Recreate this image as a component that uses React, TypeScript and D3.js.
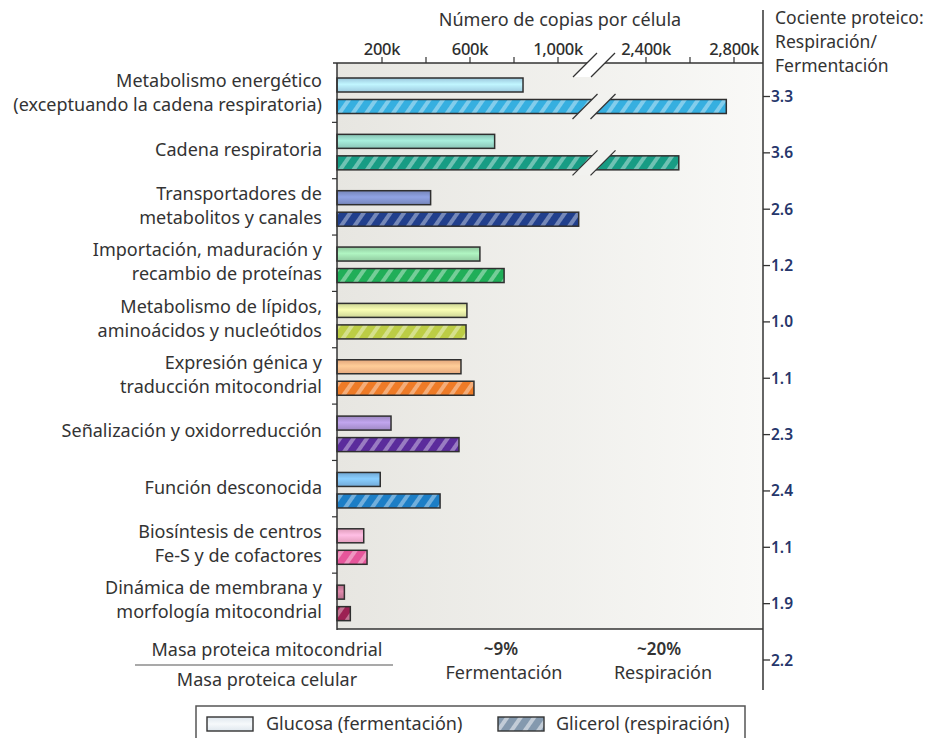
import React from "react";
import * as d3 from "d3";

const categories: string[][] = [
  ["Metabolismo energético", "(exceptuando la cadena respiratoria)"],
  ["Cadena respiratoria"],
  ["Transportadores de", "metabolitos y canales"],
  ["Importación, maduración y", "recambio de proteínas"],
  ["Metabolismo de lípidos,", "aminoácidos y nucleótidos"],
  ["Expresión génica y", "traducción mitocondrial"],
  ["Señalización y oxidorreducción"],
  ["Función desconocida"],
  ["Biosíntesis de centros", "Fe-S y de cofactores"],
  ["Dinámica de membrana y", "morfología mitocondrial"],
];
const glucosa = [841, 712, 421, 645, 586, 559, 241, 192, 117, 29];
const glicerol = [2765, 2549, 1094, 755, 582, 618, 550, 464, 132, 56];
const ratios = ["3.3", "3.6", "2.6", "1.2", "1.0", "1.1", "2.3", "2.4", "1.1", "1.9", "2.2"];
const glucoseColors = ["#aad9f0", "#94d3c3", "#7f90c9", "#9bd8ab", "#dde6a0", "#f8b586", "#aa92d2", "#7ab7e8", "#f3a9ca", "#c67998"];
const glycerolColors = ["#36afe0", "#179c84", "#213f8c", "#20ae58", "#bccd45", "#ee7b27", "#5b2c9c", "#1c7ec6", "#e6569b", "#9c2053"];
const tickValues = [200, 400, 600, 800, 1000, 2400, 2600, 2800];
const labeledTicks = [200, 600, 1000, 2400, 2800];
const breakOffset = 1000;

const FONT = "'Noto Sans', 'Open Sans', sans-serif";

export default function App() {
  const left = 337;
  const right = 763;
  const top = 63;
  const bottom = 629;
  const x = d3.scaleLinear().domain([0, 2000]).range([338, 338 + 440]);
  const pos = (v: number) => (v > 1800 ? x(v - breakOffset) : x(v));
  const band = d3
    .scaleBand<number>()
    .domain(d3.range(categories.length))
    .range([66, 66 + 56.35 * categories.length])
    .paddingInner(0)
    .paddingOuter(0);
  const bw = band.bandwidth();
  const barH = 14;
  const breakX = 594;
  const fmt = (v: number) => d3.format(",")(v) + "k";

  const slash = (cx: number, cy: number, h: number) => {
    const dx = h / 2;
    return `M${cx - dx},${cy + h / 2}L${cx + dx},${cy - h / 2}`;
  };
  const gapPoly = (cy: number, h: number) => {
    const a = breakX - 9;
    const b = breakX + 9;
    const dx = h / 2;
    return `M${a - dx},${cy + h / 2}L${a + dx},${cy - h / 2}L${b + dx},${cy - h / 2}L${b - dx},${cy + h / 2}Z`;
  };

  return (
    <svg
      width={931}
      height={738}
      style={{ position: "absolute", left: 0, top: 0, display: "block", background: "#fff" }}
      fontFamily={FONT}
    >
      <defs>
        <linearGradient id="bg" x1="0" x2="1" y1="0" y2="0">
          <stop offset="0%" stopColor="#e7e6e1" />
          <stop offset="100%" stopColor="#f9f9f7" />
        </linearGradient>
        {glucoseColors.map((c, i) => (
          <linearGradient key={i} id={`gl${i}`} x1="0" x2="0" y1="0" y2="1">
            <stop offset="0%" stopColor={d3.color(c)!.darker(0.25).toString()} />
            <stop offset="45%" stopColor={d3.color(c)!.brighter(0.35).toString()} />
            <stop offset="100%" stopColor={d3.color(c)!.darker(0.2).toString()} />
          </linearGradient>
        ))}
        {glycerolColors.map((c, i) => (
          <pattern
            key={i}
            id={`gy${i}`}
            patternUnits="userSpaceOnUse"
            width={11}
            height={11}
            patternTransform="rotate(35)"
          >
            <rect width={11} height={11} fill={c} />
            <rect x={0} width={4} height={11} fill="#ffffff" opacity={0.38} />
          </pattern>
        ))}
        <linearGradient id="legG" x1="0" x2="0" y1="0" y2="1">
          <stop offset="0%" stopColor="#dfe7ee" />
          <stop offset="50%" stopColor="#f6f9fb" />
          <stop offset="100%" stopColor="#dfe7ee" />
        </linearGradient>
        <pattern id="legP" patternUnits="userSpaceOnUse" width={11} height={11} patternTransform="rotate(35)">
          <rect width={11} height={11} fill="#8499ae" />
          <rect x={0} width={4} height={11} fill="#ffffff" opacity={0.5} />
        </pattern>
      </defs>

      {/* plot background */}
      <rect x={left} y={top} width={right - left} height={bottom - top} fill="url(#bg)" />

      {/* title */}
      <text x={560} y={26} textAnchor="middle" fontSize={18} fill="#333">
        Número de copias por célula
      </text>

      {/* top axis */}
      <line x1={333} x2={right} y1={top} y2={top} stroke="#333" strokeWidth={1.3} />
      {tickValues.map((t) => (
        <line key={t} x1={pos(t)} x2={pos(t)} y1={top} y2={top - 6} stroke="#333" strokeWidth={1.2} />
      ))}
      {labeledTicks.map((t) => (
        <text key={t} x={pos(t)} y={55} textAnchor="middle" fontSize={16.5} fontWeight={500} fill="#2e2e2e" letterSpacing={-0.3}>
          {fmt(t)}
        </text>
      ))}
      <path d={gapPoly(65, 24)} fill="#ffffff" />
      <path d={slash(breakX - 9, 65, 24)} stroke="#333" strokeWidth={1.3} />
      <path d={slash(breakX + 9, 65, 24)} stroke="#333" strokeWidth={1.3} />

      {/* bars */}
      {categories.map((_, i) => {
        const y0 = band(i)!;
        const yg = y0 + 12;
        const yy = y0 + 33.5;
        const gv = glicerol[i];
        return (
          <g key={i}>
            <rect
              x={x(0) - 1}
              y={yg}
              width={pos(glucosa[i]) - x(0) + 1}
              height={barH}
              fill={`url(#gl${i})`}
              stroke="#2f2f2f"
              strokeWidth={1.5}
            />
            <rect
              x={x(0) - 1}
              y={yy}
              width={pos(gv) - x(0) + 1}
              height={barH}
              fill={`url(#gy${i})`}
              stroke="#2f2f2f"
              strokeWidth={1.5}
            />
            {gv > 1800 && (
              <g>
                <path d={gapPoly(yy + barH / 2, 25)} fill="#f2f2ef" />
                <path d={slash(breakX - 9, yy + barH / 2, 25)} stroke="#333" strokeWidth={1.3} />
                <path d={slash(breakX + 9, yy + barH / 2, 25)} stroke="#333" strokeWidth={1.3} />
              </g>
            )}
          </g>
        );
      })}

      {/* left axis */}
      <line x1={left} x2={left} y1={top} y2={bottom + 1} stroke="#333" strokeWidth={1.5} />
      {d3.range(1, categories.length).map((i) => (
        <line key={i} x1={left - 5} x2={left} y1={band(i)!} y2={band(i)!} stroke="#333" strokeWidth={1.2} />
      ))}
      <line x1={left} x2={right} y1={bottom} y2={bottom} stroke="#333" strokeWidth={1.5} />

      {/* category labels */}
      {categories.map((lines, i) => {
        const cy = band(i)! + bw / 2;
        return (
          <text key={i} textAnchor="end" fontSize={18} fill="#333">
            {lines.map((l, j) => (
              <tspan key={j} x={322} y={cy + 5 + (j - (lines.length - 1) / 2) * 24}>
                {l}
              </tspan>
            ))}
          </text>
        );
      })}

      {/* right axis */}
      <line x1={right} x2={right} y1={10} y2={690} stroke="#333" strokeWidth={1.5} />
      {ratios.map((r, i) => {
        const y = 66 + 56.35 * i + 30.5;
        return (
          <g key={i}>
            <line x1={right} x2={right + 7} y1={y} y2={y} stroke="#333" strokeWidth={1.3} />
            <text x={right + 8} y={y + 5.5} fontSize={15.5} fontWeight={600} fill="#26366b">
              {r}
            </text>
          </g>
        );
      })}
      <text fontSize={17.5} fill="#333">
        <tspan x={775} y={24}>Cociente proteico:</tspan>
        <tspan x={775} y={48}>Respiración/</tspan>
        <tspan x={775} y={72}>Fermentación</tspan>
      </text>

      {/* bottom ratio */}
      <text x={267} y={656} textAnchor="middle" fontSize={18} fill="#333">
        Masa proteica mitocondrial
      </text>
      <line x1={135} x2={393} y1={665} y2={665} stroke="#555" strokeWidth={1.2} />
      <text x={267} y={686} textAnchor="middle" fontSize={18} fill="#333">
        Masa proteica celular
      </text>
      <text x={501} y={655} textAnchor="middle" fontSize={17} fontWeight={600} fill="#333">
        ~9%
      </text>
      <text x={504} y={679} textAnchor="middle" fontSize={18} fill="#333">
        Fermentación
      </text>
      <text x={659} y={655} textAnchor="middle" fontSize={17} fontWeight={600} fill="#333">
        ~20%
      </text>
      <text x={663} y={679} textAnchor="middle" fontSize={18} fill="#333">
        Respiración
      </text>

      {/* legend */}
      <rect x={196} y={706} width={549} height={45} fill="#fff" stroke="#555" strokeWidth={1.5} />
      <rect x={207} y={717} width={46} height={14} fill="url(#legG)" stroke="#333" strokeWidth={1.4} />
      <text x={266} y={730} fontSize={18} fill="#333">
        Glucosa (fermentación)
      </text>
      <rect x={498} y={717} width={46} height={14} fill="url(#legP)" stroke="#333" strokeWidth={1.4} />
      <text x={556} y={730} fontSize={18} fill="#333">
        Glicerol (respiración)
      </text>
    </svg>
  );
}
